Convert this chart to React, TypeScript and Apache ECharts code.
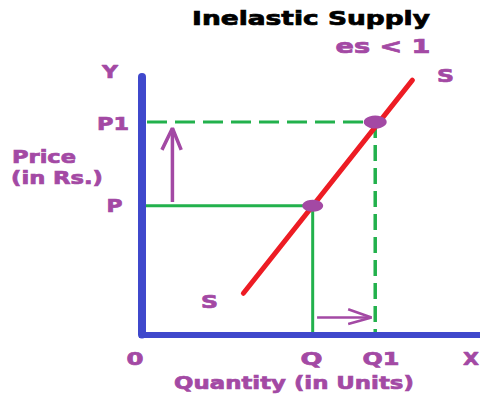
import { useEffect, useRef } from "react";
import * as echarts from "echarts";

// ---- data (abstract units on hidden value axes) ----
const xRange = [0, 100];
const yRange = [0, 100];
const quantities = [50.5, 69]; // Q, Q1
const prices = [50, 82.5]; // P, P1
const supplyLine = [
  [30, 16],
  [80, 98.8],
];
const arrowUpShaft = [
  [9, 51.5],
  [9, 80.1],
];
const arrowUpHead = [
  [5.9, 71.7],
  [9, 80.1],
  [11.6, 71.7],
];
const arrowRightShaft = [
  [51.8, 6.6],
  [67.9, 6.6],
];
const arrowRightHead = [
  [61, 9.8],
  [67.9, 6.6],
  [61, 4.1],
];
const xTickLabels = ["0", "Q", "Q1", "X"];
const yTickLabels = ["P", "P1", "Y"];
const titleText = "Inelastic Supply";
const subtitleText = "es < 1";
const yAxisName = ["Price", "(in Rs.)"];
const xAxisName = "Quantity (in Units)";
const curveName = "S";

const BLUE = "#3F48CC";
const RED = "#ED1C24";
const GREEN = "#22B14C";
const PURPLE = "#A349A4";
const FONT = '"DejaVu Sans", Verdana, sans-serif';

export default function App() {
  const ref = useRef<HTMLDivElement>(null);

  useEffect(() => {
    if (!ref.current) return;
    const chart = echarts.init(ref.current, undefined, { renderer: "svg" });
    const [Q, Q1] = quantities;
    const [P, P1] = prices;

    chart.setOption({
      animation: false,
      backgroundColor: "#ffffff",
      grid: { left: 142, right: 0, top: 77, bottom: 63.5 },
      xAxis: {
        type: "value",
        min: xRange[0],
        max: xRange[1],
        z: 5,
        axisLine: { show: true, onZero: false, lineStyle: { color: BLUE, width: 6, cap: "square" } },
        axisTick: { show: false },
        axisLabel: { show: false },
        splitLine: { show: false },
      },
      yAxis: {
        type: "value",
        min: yRange[0],
        max: yRange[1],
        z: 5,
        axisLine: { show: true, onZero: false, lineStyle: { color: BLUE, width: 8, cap: "round" } },
        axisTick: { show: false },
        axisLabel: { show: false },
        splitLine: { show: false },
      },
      series: [
        {
          name: "equilibrium",
          type: "line",
          symbol: "none",
          data: [
            [xRange[0], P],
            [Q, P],
            [Q, yRange[0]],
          ],
          lineStyle: { color: GREEN, width: 3 },
          z: 2,
        },
        {
          name: "new price",
          type: "line",
          symbol: "none",
          data: [
            [xRange[0], P1],
            [Q1, P1],
          ],
          lineStyle: { color: GREEN, width: 3, type: [20, 8], dashOffset: -5 },
          z: 2,
        },
        {
          name: "new quantity",
          type: "line",
          symbol: "none",
          data: [
            [Q1, P1],
            [Q1, yRange[0]],
          ],
          lineStyle: { color: GREEN, width: 3.5, type: [16, 7] },
          z: 2,
        },
        {
          name: "supply",
          type: "line",
          symbol: "none",
          data: supplyLine,
          lineStyle: { color: RED, width: 5, cap: "round" },
          z: 3,
        },
        ...[arrowUpShaft, arrowUpHead].map((d) => ({
          type: "line",
          symbol: "none",
          data: d,
          lineStyle: { color: PURPLE, width: 3.5 },
          z: 3,
        })),
        ...[arrowRightShaft, arrowRightHead].map((d) => ({
          type: "line",
          symbol: "none",
          data: d,
          lineStyle: { color: PURPLE, width: 2.5 },
          z: 3,
        })),
        {
          name: "points",
          type: "scatter",
          symbol: "circle",
          data: [
            { value: [Q, P], symbolSize: [21, 12] },
            { value: [Q1, P1], symbolSize: [23, 13] },
          ],
          itemStyle: { color: PURPLE, opacity: 1 },
          z: 4,
        },
      ],
    });

    const ctx = document.createElement("canvas").getContext("2d")!;
    const mkText = (text: string, cx: number, cy: number, targetW: number, size: number, color: string) => {
      const font = `bold ${size}px ${FONT}`;
      ctx.font = font;
      const w = ctx.measureText(text).width || targetW;
      return {
        type: "text",
        x: cx,
        y: cy,
        scaleX: targetW / w,
        z: 100,
        style: {
          text,
          fill: color,
          stroke: color,
          lineWidth: 0.7,
          font,
          align: "center",
          verticalAlign: "middle",
          textAlign: "center",
          textVerticalAlign: "middle",
        },
      };
    };
    const px = (x: number, y: number) => chart.convertToPixel({ gridIndex: 0 }, [x, y]) as number[];

    const origin = px(xRange[0], yRange[0]);
    const pQ = px(Q, yRange[0]);
    const pQ1 = px(Q1, yRange[0]);
    const pXmax = px(xRange[1], yRange[0]);
    const pP = px(xRange[0], P);
    const pP1 = px(xRange[0], P1);
    const pYmax = px(xRange[0], yRange[1]);
    const sLow = px(supplyLine[0][0], supplyLine[0][1]);
    const sHigh = px(supplyLine[1][0], supplyLine[1][1]);
    const labelY = origin[1] + 24;

    chart.setOption({
      graphic: [
        mkText(titleText, 311, 18, 238, 19, "#000000"),
        mkText(subtitleText, 383, 47, 95, 19, PURPLE),
        mkText(yAxisName[0], 44, 156.5, 64, 18, PURPLE),
        mkText(yAxisName[1], 57, 177.5, 92, 18, PURPLE),
        mkText(xAxisName, 294, 382.5, 240, 18, PURPLE),
        mkText(xTickLabels[0], origin[0] - 7, labelY + 0.5, 17, 18, PURPLE),
        mkText(xTickLabels[1], pQ[0] - 1.3, labelY, 22, 18, PURPLE),
        mkText(xTickLabels[2], pQ1[0] + 5.8, labelY, 37, 18, PURPLE),
        mkText(xTickLabels[3], pXmax[0] - 9, labelY, 16, 18, PURPLE),
        mkText(yTickLabels[0], pP[0] - 27.5, pP[1], 16, 18, PURPLE),
        mkText(yTickLabels[1], pP1[0] - 29, pP1[1] + 1.5, 32, 18, PURPLE),
        mkText(yTickLabels[2], pYmax[0] - 32, pYmax[1] - 5.5, 16, 18, PURPLE),
        mkText(curveName, sLow[0] - 34, sLow[1] + 9, 17, 17, PURPLE),
        mkText(curveName, sHigh[0] + 33, sHigh[1] - 4.5, 17, 18, PURPLE),
      ],
    });

    return () => chart.dispose();
  }, []);

  return (
    <div
      ref={ref}
      style={{ position: "fixed", left: 0, top: 0, width: 480, height: 398, background: "#fff" }}
    />
  );
}
